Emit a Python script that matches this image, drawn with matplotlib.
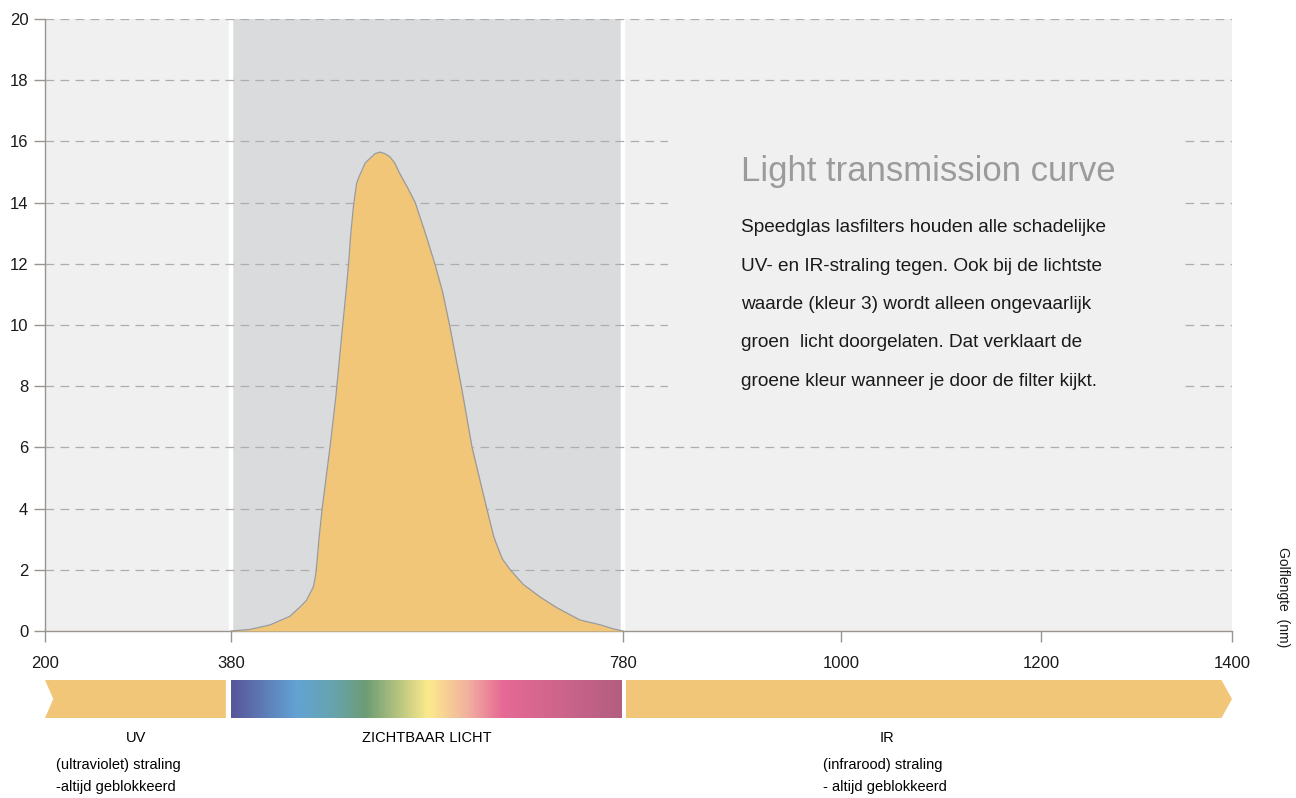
import numpy as np
import matplotlib.pyplot as plt
from matplotlib.patches import Rectangle, Polygon
from matplotlib.colors import LinearSegmentedColormap

# wavelength (nm) and transmission
wl = [380, 399, 420, 440, 450, 457, 464, 466, 467, 470, 473, 481, 487, 491, 494,
      497, 500, 502, 505, 508, 510, 513, 517, 522, 527, 532, 537, 542, 547, 552,
      560, 568, 578, 588, 596, 603, 609, 615, 626, 641, 648, 651, 657, 665, 678,
      695, 712, 736, 757, 770, 780]
trans = [0, 0.05, 0.2, 0.48, 0.77, 1.0, 1.44, 1.77, 2.0, 3.08, 4.0, 6.0, 7.66,
         9.0, 10.0, 10.96, 12.0, 12.9, 13.9, 14.6, 14.8, 15.01, 15.3, 15.45, 15.6,
         15.65, 15.6, 15.5, 15.3, 14.96, 14.5, 14.0, 13.03, 12.0, 11.07, 10.0, 9.0,
         8.0, 6.0, 4.0, 3.1, 2.83, 2.35, 2.0, 1.53, 1.12, 0.77, 0.36, 0.2, 0.07, 0]

xticks = [200, 380, 780, 1000, 1200, 1400]
yticks = [0, 2, 4, 6, 8, 10, 12, 14, 16, 18, 20]
bands = [200, 380, 780, 1400]
band_names = ["UV", "ZICHTBAAR LICHT", "IR"]

title = "Light transmission curve"
body = ["Speedglas lasfilters houden alle schadelijke",
        "UV- en IR-straling tegen. Ook bij de lichtste",
        "waarde (kleur 3) wordt alleen ongevaarlijk",
        "groen  licht doorgelaten. Dat verklaart de",
        "groene kleur wanneer je door de filter kijkt."]

rainbow = ["#58579a", "#62a3d4", "#67a3ae", "#6c9c74", "#fcea8c",
           "#f1b09f", "#e66a95", "#b35e80"]
rainbow_pos = [0, 0.164, 0.258, 0.343, 0.504, 0.606, 0.693, 1.0]

plt.rcParams['font.family'] = ['Liberation Sans', 'DejaVu Sans']

# the printed axis is slightly uneven between its ticks
px_pos = [0, 186, 578, 796, 996, 1187]
fwd = lambda x: np.interp(x, xticks, px_pos)
inv = lambda p: np.interp(p, px_pos, xticks)

W, H = 1296, 798
fig = plt.figure(figsize=(W / 100, H / 100), dpi=100)
ax = fig.add_axes([45 / W, 1 - 631 / H, 1187 / W, 612 / H])
ax.set_xscale('function', functions=(fwd, inv))
ax.set_xlim(200, 1400)
ax.set_ylim(0, 20)

light = "#eff0ef"
ax.axvspan(bands[0], bands[1], color=light, zorder=0.5, lw=0)
ax.axvspan(bands[1], bands[2], color="#dadbdd", zorder=0.5, lw=0)
ax.axvspan(bands[2], bands[3], color=light, zorder=0.5, lw=0)
for b in bands[1:3]:
    ax.axvline(b, color="white", lw=3.2, zorder=1.2)

for yv in yticks[1:]:
    ax.axhline(yv, color="#adadad", lw=0.9, ls=(0, (7, 5)), zorder=1.5)

# box behind the text
ax.add_patch(Rectangle((668 / W, 1 - 420 / H), 515 / W, 290 / H,
                       transform=fig.transFigure, color=light, lw=0, zorder=1.8))

ax.fill_between(wl, trans, color="#f1c678", lw=0, zorder=3)
ax.plot(wl, trans, color="#9a9a9a", lw=0.9, zorder=3.1, solid_joinstyle='round')

for s in ['top', 'right']:
    ax.spines[s].set_visible(False)
for s in ['left', 'bottom']:
    ax.spines[s].set_color("#9a948f")
    ax.spines[s].set_linewidth(1.0)
ax.set_xticks(xticks)
ax.set_yticks(yticks)
ax.tick_params(axis='both', colors="#9a948f", width=1.0, length=8,
               labelcolor="#1a1a1a", labelsize=12)
ax.tick_params(axis='x', pad=10)
ax.tick_params(axis='y', pad=4)

fig.text(741 / W, 1 - 172 / H, title, fontsize=25, color="#9b9b9b",
         va='center', ha='left')
for i, line in enumerate(body):
    fig.text(741 / W, 1 - (228 + i * 38.3) / H, line, fontsize=13.7,
             color="#1a1a1a", va='center', ha='left')

fig.text(1283 / W, 1 - 597 / H, "Golflengte  (nm)", rotation=-90,
         fontsize=10, color="#1a1a1a", ha='center', va='center')

# spectrum bar below the axis
bx = fig.add_axes([45 / W, 1 - 718 / H, 1187 / W, 38 / H])
bx.set_xscale('function', functions=(fwd, inv))
bx.set_xlim(200, 1400)
bx.set_ylim(0, 1)
bx.axis('off')
orange = "#f1c678"
bx.add_patch(Polygon([[bands[0], 0], [bands[1] - 5, 0], [bands[1] - 5, 1],
                      [bands[0], 1], [bands[0] + 8, 0.5]], color=orange, lw=0))
bx.add_patch(Polygon([[bands[2] + 3, 0], [bands[3] - 11, 0], [bands[3], 0.5],
                      [bands[3] - 11, 1], [bands[2] + 3, 1]], color=orange, lw=0))
cmap = LinearSegmentedColormap.from_list("spec", list(zip(rainbow_pos, rainbow)))
bx.imshow(np.linspace(0, 1, 400)[None, :], cmap=cmap, aspect='auto',
          extent=[bands[1], bands[2] - 1, 0, 1], interpolation='bilinear')

fig.text(136 / W, 1 - 738 / H, band_names[0], fontsize=10.5, ha='center', va='center')
fig.text(56 / W, 1 - 765 / H, "(ultraviolet) straling", fontsize=10.5, ha='left', va='center')
fig.text(56 / W, 1 - 787 / H, "-altijd geblokkeerd", fontsize=10.5, ha='left', va='center')
fig.text(427 / W, 1 - 738 / H, band_names[1], fontsize=10.5, ha='center', va='center')
fig.text(887 / W, 1 - 738 / H, band_names[2], fontsize=10.5, ha='center', va='center')
fig.text(823 / W, 1 - 765 / H, "(infrarood) straling", fontsize=10.5, ha='left', va='center')
fig.text(823 / W, 1 - 787 / H, "- altijd geblokkeerd", fontsize=10.5, ha='left', va='center')

fig.savefig("out.png", dpi=100)
